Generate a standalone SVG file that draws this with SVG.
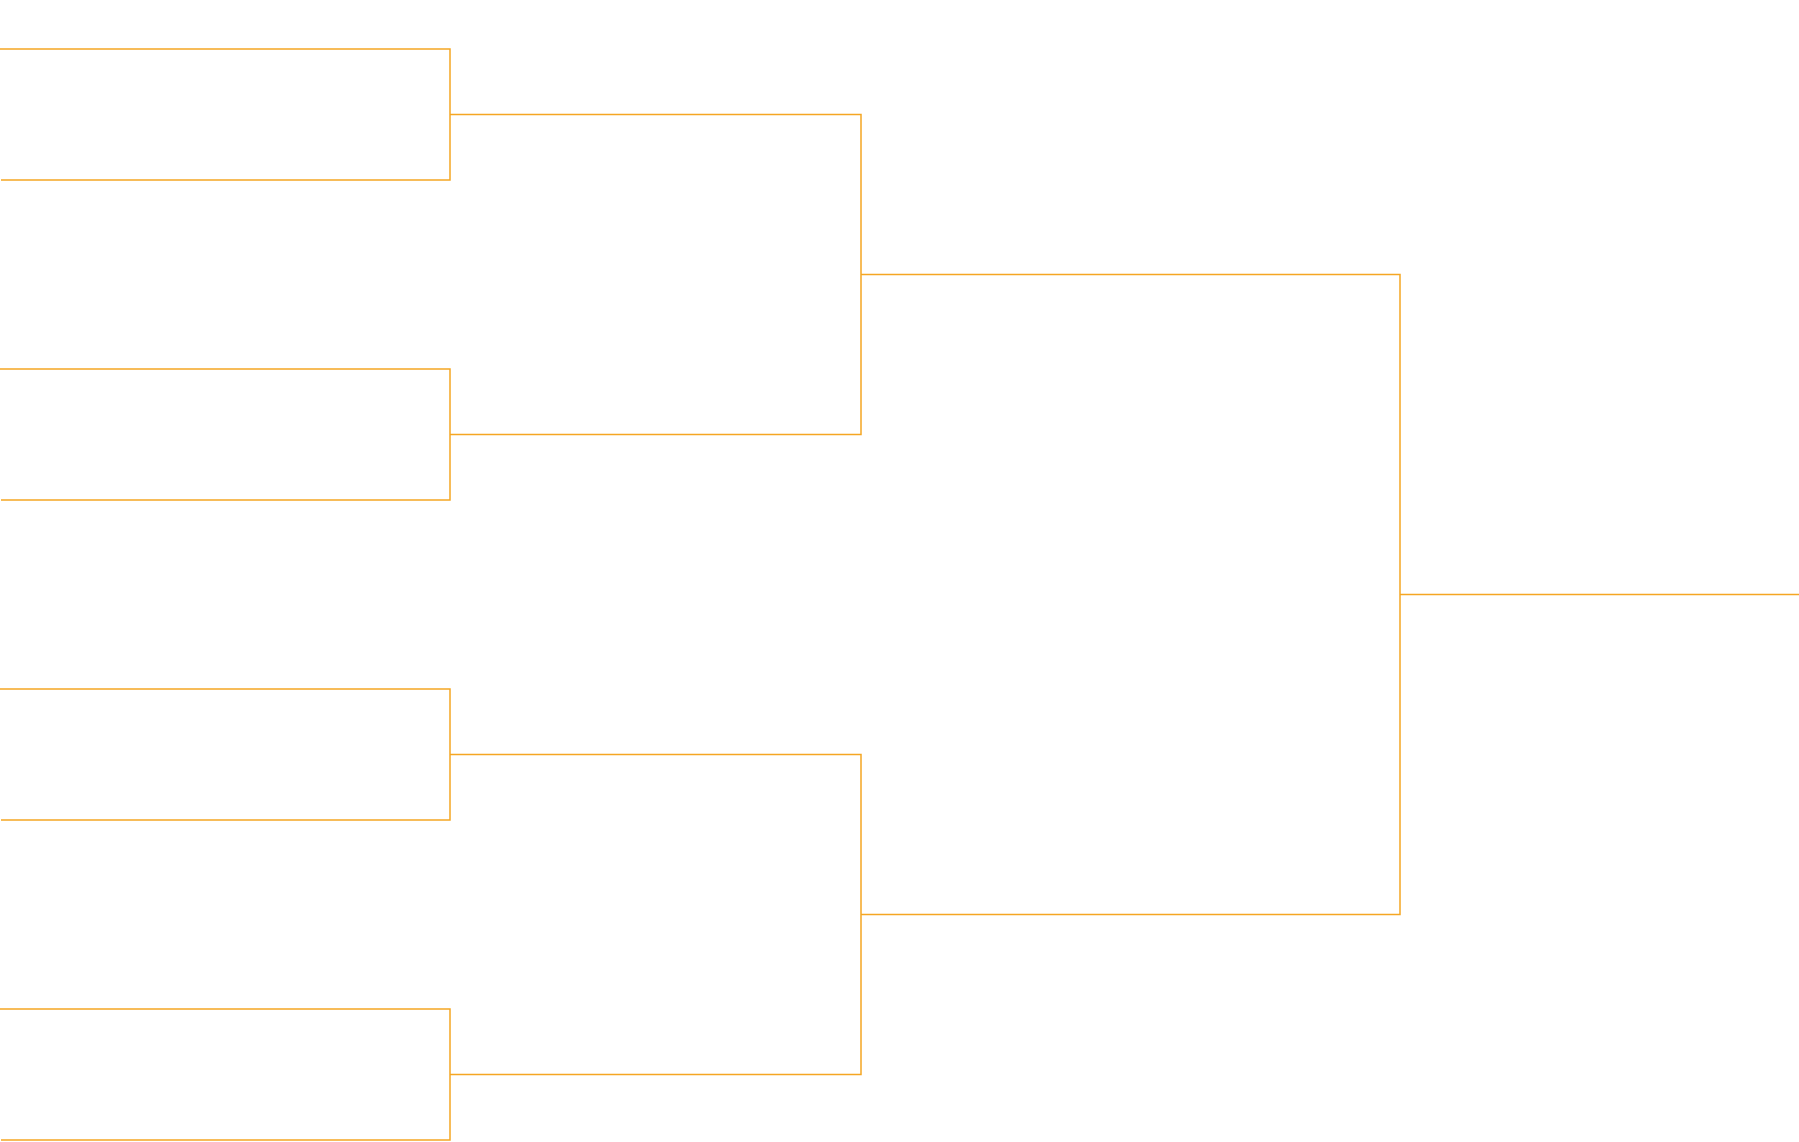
<svg xmlns="http://www.w3.org/2000/svg" width="1799" height="1142" viewBox="0 0 1799 1142">
<style>.c{fill:none;stroke:#F5A623;stroke-width:1.5}</style>
<rect width="1799" height="1142" fill="#fff"/>
<g id="connectors">
<path class="c" d="M0,49H450V180H1"/>
<path class="c" d="M0,369H450V500H1"/>
<path class="c" d="M0,689H450V820H1"/>
<path class="c" d="M0,1009H450V1140H1"/>
<path class="c" d="M450,114.5H861V434.5H450"/>
<path class="c" d="M450,754.5H861V1074.5H450"/>
<path class="c" d="M861,274.5H1400V914.5H861"/>
<path class="c" d="M1400,594.5H1799"/>
</g>
</svg>
